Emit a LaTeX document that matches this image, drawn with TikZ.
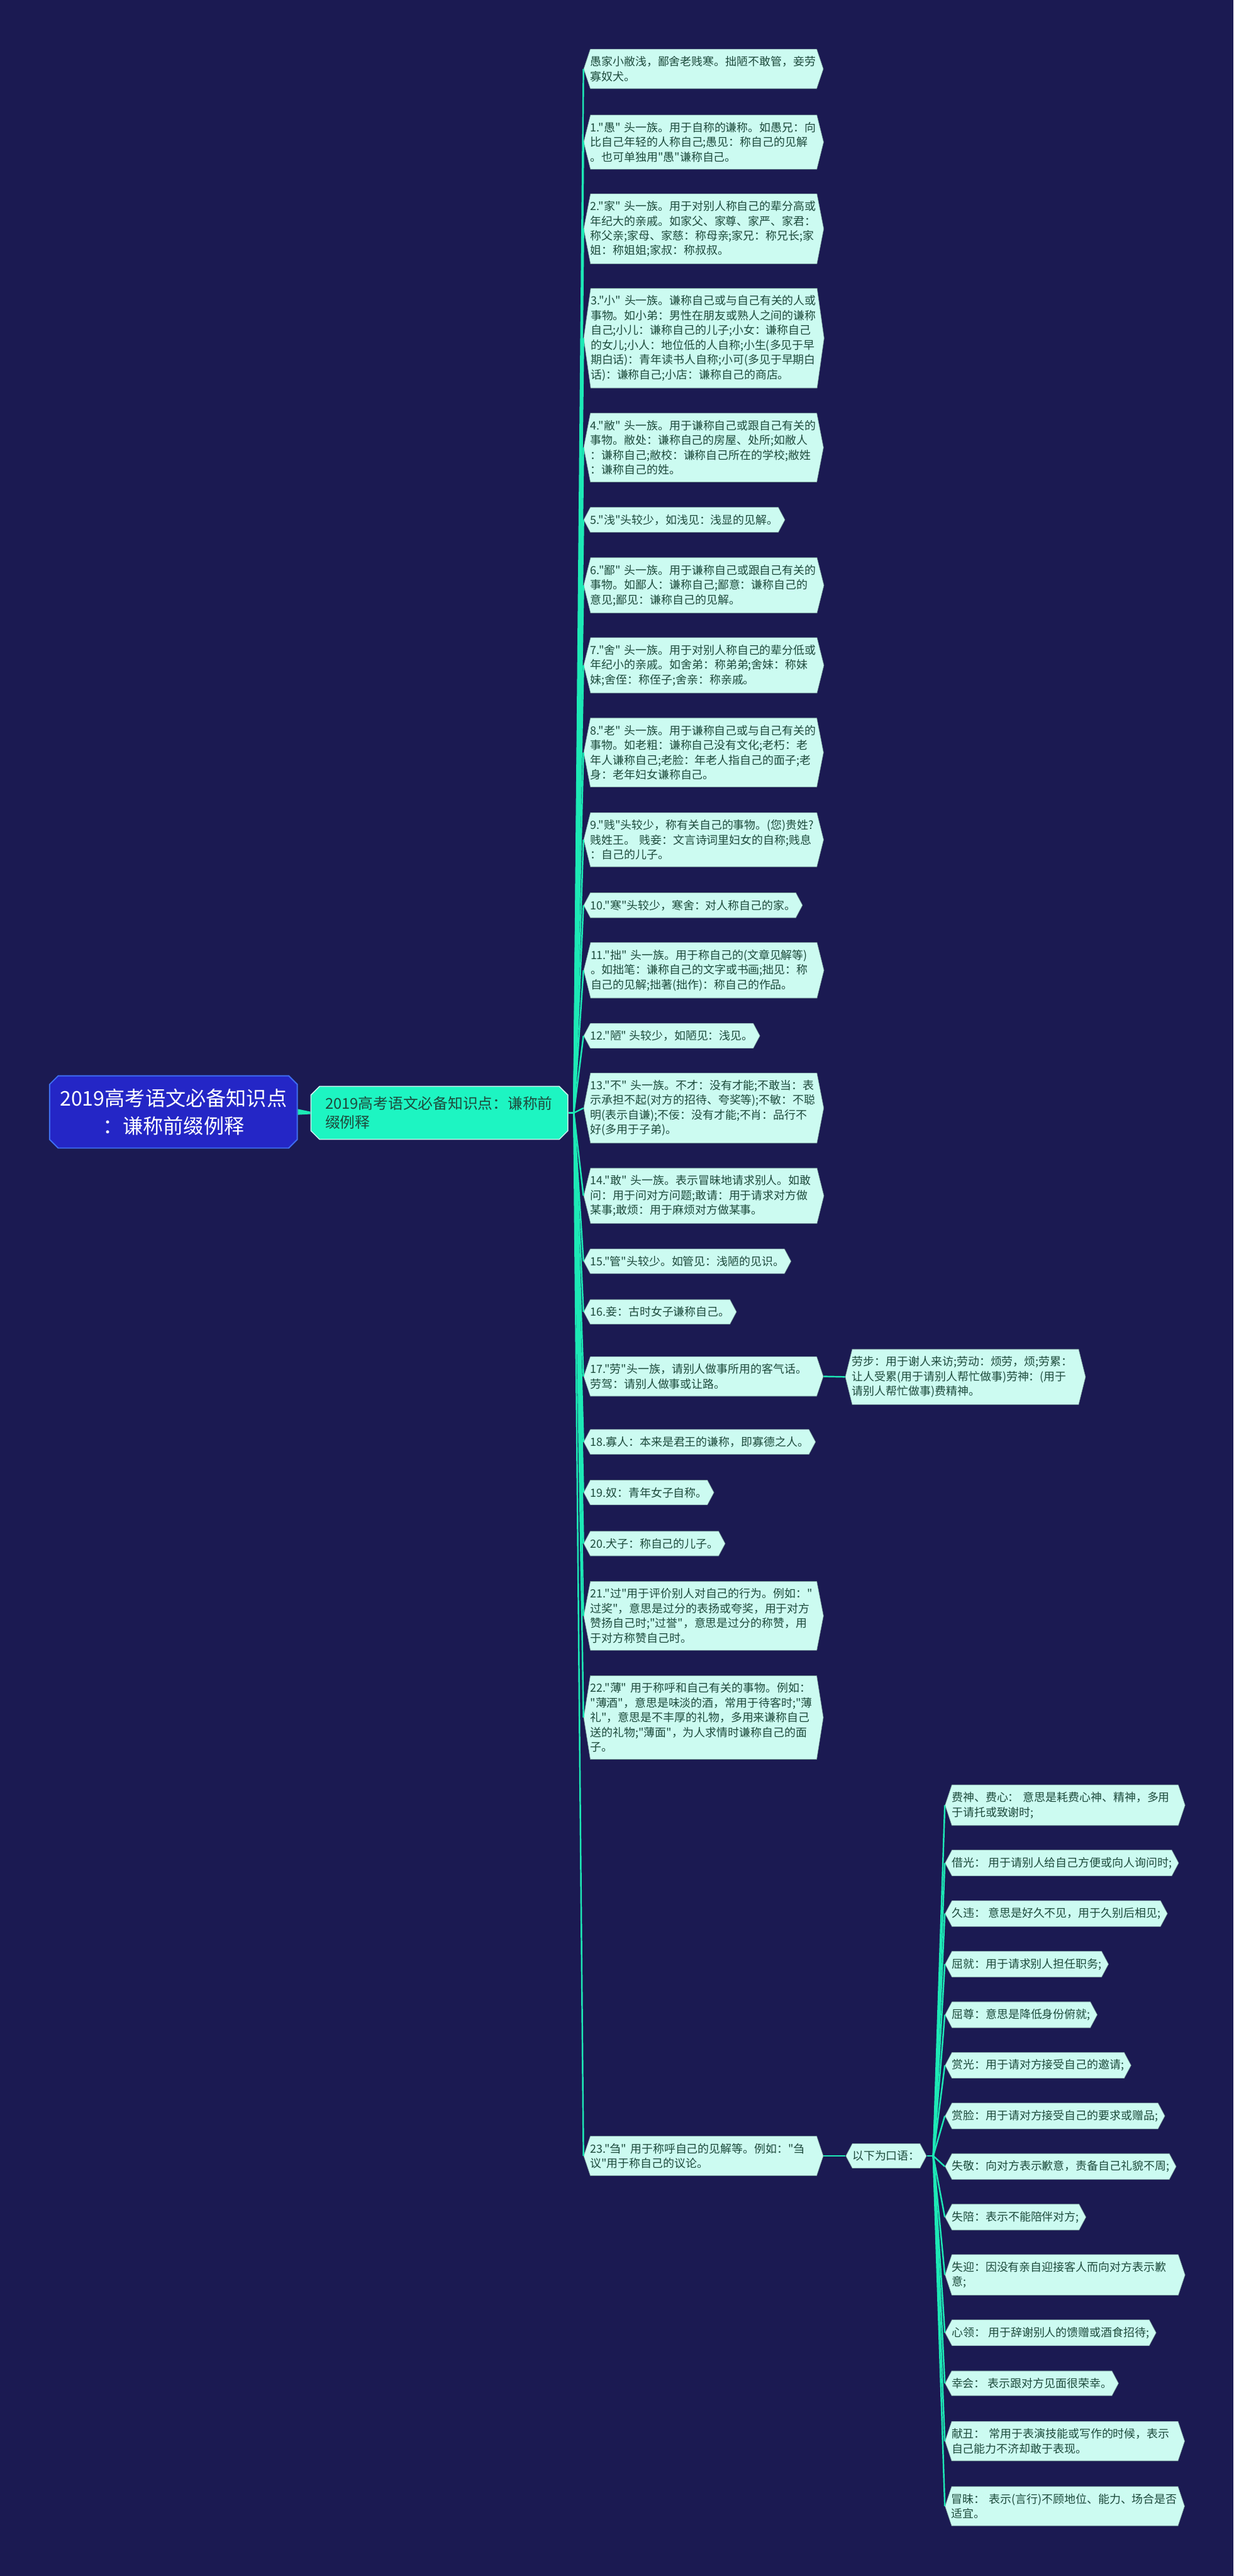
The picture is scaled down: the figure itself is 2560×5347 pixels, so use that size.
\documentclass[tikz,border=0pt]{standalone}
\usepackage{fontspec}
\newfontfamily\cjk{Noto Sans CJK SC}
\usetikzlibrary{shapes.symbols, shapes.misc}

\definecolor{fondo}{HTML}{1B1A52}
\definecolor{verde}{HTML}{1DE9B6}
\definecolor{menta}{HTML}{CCFBF1}
\definecolor{borde}{HTML}{6F928E}
\definecolor{tinta}{HTML}{1D4A3C}
\definecolor{azul}{HTML}{2426C6}
\definecolor{azulborde}{HTML}{3F6EF2}
\definecolor{aqua}{HTML}{1DF5C2}

\begin{document}
\begin{tikzpicture}[x=0.5pt, y=-0.5pt]

	\tikzstyle{raiz}=[chamfered rectangle, chamfered rectangle xsep=6pt, fill=azul, draw=azulborde, line width=1.2pt, text=white, font=\cjk\fontsize{21pt}{28.5pt}\selectfont, align=center, minimum width=257pt, minimum height=75pt]
	\tikzstyle{tema}=[chamfered rectangle, chamfered rectangle xsep=6pt, fill=aqua, draw=menta, line width=1pt, text=tinta, font=\cjk\fontsize{15.5pt}{20pt}\selectfont, align=left, text width=237pt, inner xsep=8.75pt, minimum height=55pt]
	\tikzstyle{hoja}=[signal, signal to=east and west, fill=menta, draw=borde, line width=0.4pt, text=tinta, font=\cjk\fontsize{11.7pt}{15.3pt}\selectfont, align=left, inner xsep=0pt, inner ysep=7.4pt, anchor=west]
	\tikzstyle{ancho}=[text width=235pt]
	\tikzstyle{l1}=[signal pointer angle=124]
	\tikzstyle{l2}=[signal pointer angle=143]
	\tikzstyle{l3}=[signal pointer angle=152]
	\tikzstyle{l4}=[signal pointer angle=158]
	\tikzstyle{l5}=[signal pointer angle=162]
	\tikzstyle{l6}=[signal pointer angle=164]
	\tikzstyle{rama}=[verde, line width=1.6pt]

	\fill[fondo] (0,0) rectangle (2560,5347);
	\useasboundingbox (0,0) rectangle (2560,5347);

	\coordinate (raiz) at (360, 2308);
	\coordinate (tema) at (912, 2310);
	\coordinate (c_tema) at (1191, 2310);
	\coordinate (c_oral) at (1937, 4475);

	\coordinate (h_0) at (1211, 143); % HOJAS
	\coordinate (h_1) at (1211, 295);
	\coordinate (h_2) at (1211, 475);
	\coordinate (h_3) at (1211, 702);
	\coordinate (h_4) at (1211, 929);
	\coordinate (h_5) at (1211, 1079);
	\coordinate (h_6) at (1211, 1215);
	\coordinate (h_7) at (1211, 1381);
	\coordinate (h_8) at (1211, 1562);
	\coordinate (h_9) at (1211, 1743);
	\coordinate (h_10) at (1211, 1879);
	\coordinate (h_11) at (1211, 2014);
	\coordinate (h_12) at (1211, 2150);
	\coordinate (h_13) at (1211, 2300);
	\coordinate (h_14) at (1211, 2482);
	\coordinate (h_15) at (1211, 2618);
	\coordinate (h_16) at (1211, 2723);
	\coordinate (h_17) at (1211, 2857);
	\coordinate (h_17_1) at (1754, 2858);
	\coordinate (h_18) at (1211, 2993);
	\coordinate (h_19) at (1211, 3098);
	\coordinate (h_20) at (1211, 3204);
	\coordinate (h_21) at (1211, 3354);
	\coordinate (h_22) at (1211, 3565);
	\coordinate (h_23) at (1211, 4475);
	\coordinate (h_23_1) at (1755, 4475);

	\coordinate (o_1) at (1961, 3747); % ORAL
	\coordinate (o_2) at (1961, 3867);
	\coordinate (o_3) at (1961, 3972);
	\coordinate (o_4) at (1961, 4077);
	\coordinate (o_5) at (1961, 4182);
	\coordinate (o_6) at (1961, 4287);
	\coordinate (o_7) at (1961, 4392);
	\coordinate (o_8) at (1961, 4497);
	\coordinate (o_9) at (1961, 4602);
	\coordinate (o_10) at (1961, 4722);
	\coordinate (o_11) at (1961, 4842);
	\coordinate (o_12) at (1961, 4947);
	\coordinate (o_13) at (1961, 5067);
	\coordinate (o_14) at (1961, 5202);

	\node[raiz] (raiz) at (raiz) {2019高考语文必备知识点\\：谦称前缀例释};
	\node[tema] (tema) at (tema) {2019高考语文必备知识点：谦称前\\缀例释};

	\node[hoja, ancho, l2] (h_0) at (h_0) {愚家小敝浅，鄙舍老贱寒。拙陋不敢管，妾劳\\寡奴犬。};
	\node[hoja, ancho, l3] (h_1) at (h_1) {1."愚"~头一族。用于自称的谦称。如愚兄：向\\比自己年轻的人称自己;愚见：称自己的见解\\。也可单独用"愚"谦称自己。};
	\node[hoja, ancho, l4] (h_2) at (h_2) {2."家"~头一族。用于对别人称自己的辈分高或\\年纪大的亲戚。如家父、家尊、家严、家君：\\称父亲;家母、家慈：称母亲;家兄：称兄长;家\\姐：称姐姐;家叔：称叔叔。};
	\node[hoja, ancho, l6] (h_3) at (h_3) {3."小"~头一族。谦称自己或与自己有关的人或\\事物。如小弟：男性在朋友或熟人之间的谦称\\自己;小儿：谦称自己的儿子;小女：谦称自己\\的女儿;小人：地位低的人自称;小生(多见于早\\期白话)：青年读书人自称;小可(多见于早期白\\话)：谦称自己;小店：谦称自己的商店。};
	\node[hoja, ancho, l4] (h_4) at (h_4) {4."敝"~头一族。用于谦称自己或跟自己有关的\\事物。敝处：谦称自己的房屋、处所;如敝人\\：谦称自己;敝校：谦称自己所在的学校;敝姓\\：谦称自己的姓。};
	\node[hoja, l1] (h_5) at (h_5) {5."浅"头较少，如浅见：浅显的见解。};
	\node[hoja, ancho, l3] (h_6) at (h_6) {6."鄙"~头一族。用于谦称自己或跟自己有关的\\事物。如鄙人：谦称自己;鄙意：谦称自己的\\意见;鄙见：谦称自己的见解。};
	\node[hoja, ancho, l3] (h_7) at (h_7) {7."舍"~头一族。用于对别人称自己的辈分低或\\年纪小的亲戚。如舍弟：称弟弟;舍妹：称妹\\妹;舍侄：称侄子;舍亲：称亲戚。};
	\node[hoja, ancho, l4] (h_8) at (h_8) {8."老"~头一族。用于谦称自己或与自己有关的\\事物。如老粗：谦称自己没有文化;老朽：老\\年人谦称自己;老脸：年老人指自己的面子;老\\身：老年妇女谦称自己。};
	\node[hoja, ancho, l3] (h_9) at (h_9) {9."贱"头较少，称有关自己的事物。(您)贵姓?\\贱姓王。~贱妾：文言诗词里妇女的自称;贱息\\：自己的儿子。};
	\node[hoja, l1] (h_10) at (h_10) {10."寒"头较少，寒舍：对人称自己的家。};
	\node[hoja, ancho, l3] (h_11) at (h_11) {11."拙"~头一族。用于称自己的(文章见解等)\\。如拙笔：谦称自己的文字或书画;拙见：称\\自己的见解;拙著(拙作)：称自己的作品。};
	\node[hoja, l1] (h_12) at (h_12) {12."陋"~头较少，如陋见：浅见。};
	\node[hoja, ancho, l4] (h_13) at (h_13) {13."不"~头一族。不才：没有才能;不敢当：表\\示承担不起(对方的招待、夸奖等);不敏：不聪\\明(表示自谦);不佞：没有才能;不肖：品行不\\好(多用于子弟)。};
	\node[hoja, ancho, l3] (h_14) at (h_14) {14."敢"~头一族。表示冒昧地请求别人。如敢\\问：用于问对方问题;敢请：用于请求对方做\\某事;敢烦：用于麻烦对方做某事。};
	\node[hoja, l1] (h_15) at (h_15) {15."管"头较少。如管见：浅陋的见识。};
	\node[hoja, l1] (h_16) at (h_16) {16.妾：古时女子谦称自己。};
	\node[hoja, ancho, l2] (h_17) at (h_17) {17."劳"头一族，请别人做事所用的客气话。\\劳驾：请别人做事或让路。};
	\node[hoja, ancho, l3] (h_17_1) at (h_17_1) {劳步：用于谢人来访;劳动：烦劳，烦;劳累：\\让人受累(用于请别人帮忙做事)劳神：(用于\\请别人帮忙做事)费精神。};
	\node[hoja, l1] (h_18) at (h_18) {18.寡人：本来是君王的谦称，即寡德之人。};
	\node[hoja, l1] (h_19) at (h_19) {19.奴：青年女子自称。};
	\node[hoja, l1] (h_20) at (h_20) {20.犬子：称自己的儿子。};
	\node[hoja, ancho, l4] (h_21) at (h_21) {21."过"用于评价别人对自己的行为。例如："\\过奖"，意思是过分的表扬或夸奖，用于对方\\赞扬自己时;"过誉"，意思是过分的称赞，用\\于对方称赞自己时。};
	\node[hoja, ancho, l5] (h_22) at (h_22) {22."薄"~用于称呼和自己有关的事物。例如：\\"薄酒"，意思是味淡的酒，常用于待客时;"薄\\礼"，意思是不丰厚的礼物，多用来谦称自己\\送的礼物;"薄面"，为人求情时谦称自己的面\\子。};
	\node[hoja, ancho, l2] (h_23) at (h_23) {23."刍"~用于称呼自己的见解等。例如："刍\\议"用于称自己的议论。};
	\node[hoja, l1] (h_23_1) at (h_23_1) {以下为口语：};

	\node[hoja, ancho, l2] (o_1) at (o_1) {费神、费心：~意思是耗费心神、精神，多用\\于请托或致谢时;};
	\node[hoja, l1] (o_2) at (o_2) {借光：~用于请别人给自己方便或向人询问时;};
	\node[hoja, l1] (o_3) at (o_3) {久违：~意思是好久不见，用于久别后相见;};
	\node[hoja, l1] (o_4) at (o_4) {屈就：用于请求别人担任职务;};
	\node[hoja, l1] (o_5) at (o_5) {屈尊：意思是降低身份俯就;};
	\node[hoja, l1] (o_6) at (o_6) {赏光：用于请对方接受自己的邀请;};
	\node[hoja, l1] (o_7) at (o_7) {赏脸：用于请对方接受自己的要求或赠品;};
	\node[hoja, l1] (o_8) at (o_8) {失敬：向对方表示歉意，责备自己礼貌不周;};
	\node[hoja, l1] (o_9) at (o_9) {失陪：表示不能陪伴对方;};
	\node[hoja, ancho, l2] (o_10) at (o_10) {失迎：因没有亲自迎接客人而向对方表示歉\\意;};
	\node[hoja, l1] (o_11) at (o_11) {心领：~用于辞谢别人的馈赠或酒食招待;};
	\node[hoja, l1] (o_12) at (o_12) {幸会：~表示跟对方见面很荣幸。};
	\node[hoja, ancho, l2] (o_13) at (o_13) {献丑：~常用于表演技能或写作的时候，表示\\自己能力不济却敢于表现。};
	\node[hoja, ancho, l2] (o_14) at (o_14) {冒昧：~表示(言行)不顾地位、能力、场合是否\\适宜。};

	%%%%%%%%%%%%%%%%%%%%%%%%%%%%%%%%%
	%%%%%%%%%% RAMAS %%%%%%%%%%%%%%%%
	\fill[verde] ([yshift=3pt]raiz.east) -- ([yshift=1.25pt]tema.west) -- ([yshift=-1.25pt]tema.west) -- ([yshift=-3pt]raiz.east) -- cycle;
	\draw[rama] (tema.east) -- (c_tema);

	\draw[rama] (c_tema) -- (h_0.west);
	\draw[rama] (c_tema) -- (h_1.west);
	\draw[rama] (c_tema) -- (h_2.west);
	\draw[rama] (c_tema) -- (h_3.west);
	\draw[rama] (c_tema) -- (h_4.west);
	\draw[rama] (c_tema) -- (h_5.west);
	\draw[rama] (c_tema) -- (h_6.west);
	\draw[rama] (c_tema) -- (h_7.west);
	\draw[rama] (c_tema) -- (h_8.west);
	\draw[rama] (c_tema) -- (h_9.west);
	\draw[rama] (c_tema) -- (h_10.west);
	\draw[rama] (c_tema) -- (h_11.west);
	\draw[rama] (c_tema) -- (h_12.west);
	\draw[rama] (c_tema) -- (h_13.west);
	\draw[rama] (c_tema) -- (h_14.west);
	\draw[rama] (c_tema) -- (h_15.west);
	\draw[rama] (c_tema) -- (h_16.west);
	\draw[rama] (c_tema) -- (h_17.west);
	\draw[rama] (c_tema) -- (h_18.west);
	\draw[rama] (c_tema) -- (h_19.west);
	\draw[rama] (c_tema) -- (h_20.west);
	\draw[rama] (c_tema) -- (h_21.west);
	\draw[rama] (c_tema) -- (h_22.west);
	\draw[rama] (c_tema) -- (h_23.west);

	\draw[rama] (h_17.east) -- (h_17_1.west);
	\draw[rama] (h_23.east) -- (h_23_1.west);
	\draw[rama] (h_23_1.east) -- (c_oral);

	\draw[rama] (c_oral) -- (o_1.west);
	\draw[rama] (c_oral) -- (o_2.west);
	\draw[rama] (c_oral) -- (o_3.west);
	\draw[rama] (c_oral) -- (o_4.west);
	\draw[rama] (c_oral) -- (o_5.west);
	\draw[rama] (c_oral) -- (o_6.west);
	\draw[rama] (c_oral) -- (o_7.west);
	\draw[rama] (c_oral) -- (o_8.west);
	\draw[rama] (c_oral) -- (o_9.west);
	\draw[rama] (c_oral) -- (o_10.west);
	\draw[rama] (c_oral) -- (o_11.west);
	\draw[rama] (c_oral) -- (o_12.west);
	\draw[rama] (c_oral) -- (o_13.west);
	\draw[rama] (c_oral) -- (o_14.west);
	%%%%%%%%%%%%%%%%%%%%%%%%%%%%%%%%%
	%%%%%%%%%%%%%%%%%%%%%%%%%%%%%%%%%
\end{tikzpicture}
\end{document}
